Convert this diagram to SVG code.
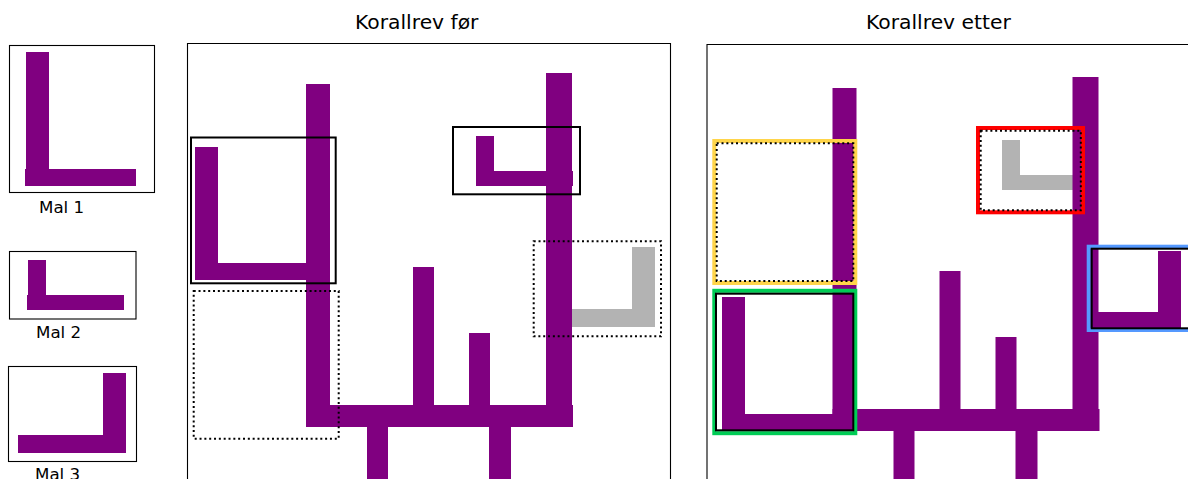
<svg xmlns="http://www.w3.org/2000/svg" width="1188" height="479" viewBox="0 0 1188 479">
<style>
.p{fill:#800080}
.g{fill:#b3b3b3}
.frame{fill:none;stroke:#000;stroke-width:1.1}
.box{fill:none;stroke:#000;stroke-width:2}
.dot{fill:none;stroke:#000;stroke-width:2;stroke-dasharray:2 2.83}
.hl{fill:none;stroke-width:4}
text{font-family:"DejaVu Sans",sans-serif;fill:#000}
.t{font-size:20.3px}
.m{font-size:16.7px}
</style>
<defs>
<g id="coral">
<rect class="p" x="306" y="84" width="24" height="343"/>
<rect class="p" x="306" y="405" width="267" height="22"/>
<rect class="p" x="413" y="267" width="21" height="140"/>
<rect class="p" x="469" y="333" width="21" height="74"/>
<rect class="p" x="546" y="73" width="26" height="354"/>
<rect class="p" x="367" y="425" width="21" height="60"/>
<rect class="p" x="489" y="425" width="22" height="60"/>
</g>
</defs>
<rect width="1188" height="479" fill="#fff"/>

<g id="templates">
<g id="mal1">
<rect class="frame" x="9.5" y="45.5" width="145" height="147"/>
<rect class="p" x="26" y="52" width="23" height="120"/>
<rect class="p" x="25" y="169" width="111" height="17"/>
<text class="m" x="39" y="213">Mal 1</text>
</g>
<g id="mal2">
<rect class="frame" x="9.5" y="251.5" width="126.5" height="67.5"/>
<rect class="p" x="28" y="260" width="18" height="38"/>
<rect class="p" x="27" y="295" width="97" height="15"/>
<text class="m" x="36" y="337.7">Mal 2</text>
</g>
<g id="mal3">
<rect class="frame" x="8.5" y="366.5" width="128" height="95"/>
<rect class="p" x="103" y="373" width="23" height="80"/>
<rect class="p" x="18" y="435" width="108" height="18"/>
<text class="m" x="35" y="479.5">Mal 3</text>
</g>
</g>

<g id="panel-before">
<text class="t" x="355" y="28.5">Korallrev før</text>
<path class="frame" d="M187.5 480V43.5H670.5V480"/>
<g id="gray-before">
<rect class="g" x="632" y="247" width="23" height="80"/>
<rect class="g" x="560" y="309" width="95" height="18"/>
</g>
<use href="#coral"/>
<rect class="p" x="195" y="147" width="23" height="133"/>
<rect class="p" x="195" y="263" width="112" height="17"/>
<rect class="p" x="476" y="136" width="18" height="50"/>
<rect class="p" x="476" y="171" width="97" height="15"/>
<g id="marks-before">
<rect class="box" x="191" y="137.5" width="144.7" height="145.8"/>
<rect class="dot" x="193.7" y="291" width="145" height="147.7"/>
<rect class="box" x="453" y="127" width="127" height="67.3"/>
<rect class="dot" x="533.7" y="241.3" width="127.3" height="95"/>
</g>
</g>

<g id="panel-after">
<text class="t" x="866" y="29.3">Korallrev etter</text>
<path class="frame" d="M707 480V44.5H1190"/>
<rect class="g" x="1002" y="140" width="18" height="50"/>
<rect class="g" x="1002" y="175" width="72" height="15"/>
<use href="#coral" transform="translate(526.5,4)"/>
<rect class="p" x="722" y="297" width="23" height="133.5"/>
<rect class="p" x="722" y="414" width="135" height="16.5"/>
<rect class="p" x="1095" y="312" width="86" height="16.5"/>
<rect class="p" x="1158" y="251" width="23" height="77.5"/>
<g id="marks-after">
<rect class="hl" stroke="#ffd54a" x="714.3" y="141" width="141" height="142"/>
<rect class="dot" x="716.7" y="143.3" width="136.6" height="137.7"/>
<rect class="hl" stroke="#00cc55" x="714.3" y="290.8" width="141" height="142.4"/>
<rect class="box" x="716" y="293.7" width="137.3" height="136.6"/>
<rect class="hl" stroke="#ff0000" x="978" y="128" width="105" height="84.3"/>
<rect class="dot" x="980.7" y="130.8" width="100.1" height="79.4"/>
<rect class="hl" stroke="#5599ff" x="1088.7" y="246.7" width="200" height="83.3"/>
<rect class="box" x="1091.7" y="248.7" width="200" height="79.6"/>
</g>
</g>
</svg>
